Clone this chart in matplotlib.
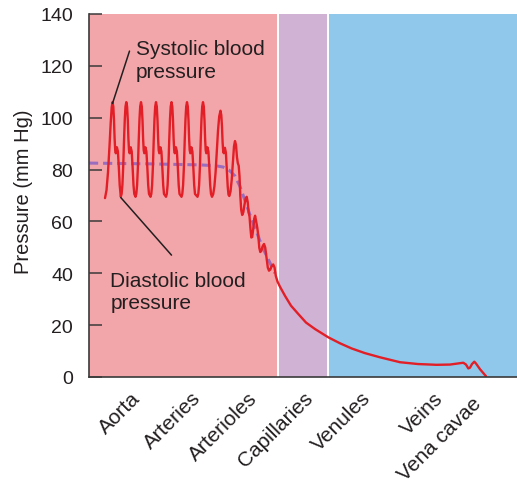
import matplotlib
matplotlib.use("Agg")
import matplotlib.pyplot as plt
import matplotlib.transforms as mtransforms

plt.rcParams['font.family'] = ['Liberation Sans', 'DejaVu Sans']

# ---------------- data ----------------
categories = ["Aorta", "Arteries", "Arterioles", "Capillaries", "Venules", "Veins", "Vena cavae"]
category_pos = [131, 191, 248, 303, 361, 433, 472]

region_names = ["arterial", "capillary", "venous"]
region_spans = [(89, 277), (279, 327), (329, 517)]
region_colors = ["#F3A6AA", "#CFB2D4", "#8FC8EB"]

y_ticks = [0, 20, 40, 60, 80, 100, 120, 140]

# blood pressure trace (position along circulation, mm Hg)
pressure_x = [
    105, 106.5, 108, 109.5, 110.7, 111.7, 112.5, 113.3, 114, 114.6, 115.2, 115.8, 116.9, 117.9, 118.8, 119.7, 120.5,
    120.8, 121.6, 122.4, 123.2, 124, 124.8, 125.5, 126.3, 127.1, 127.8, 128.4, 129, 129.6, 130.7, 131.7, 132.6, 133.5, 134.3,
    135.5, 136.3, 137.1, 137.9, 138.7, 139.5, 140.2, 141, 141.8, 142.5, 143.1, 143.7, 144.3, 145.4, 146.4, 147.3, 148.2, 149,
    150.5, 151.3, 152.1, 152.9, 153.7, 154.5, 155.2, 156, 156.8, 157.5, 158.1, 158.7, 159.3, 160.4, 161.4, 162.3, 163.2, 164,
    166, 166.8, 167.6, 168.4, 169.2, 170, 170.7, 171.5, 172.3, 173, 173.6, 174.2, 174.8, 175.9, 176.9, 177.8, 178.7, 179.5,
    181.5, 182.3, 183.1, 183.9, 184.7, 185.5, 186.2, 187, 187.8, 188.5, 189.1, 189.7, 190.3, 191.4, 192.4, 193.3, 194.2, 195,
    197.5, 198.3, 199.1, 199.9, 200.7, 201.5, 202.2, 203, 203.8, 204.5, 205.1, 205.7, 206.3, 207.4, 208.4, 209.3, 210.2, 211,
    212, 213.2, 214.4, 215.6, 216.8, 218, 219.2, 220.5, 221.3, 222, 222.6, 223.2, 223.8, 224.9, 225.9, 226.8, 227.7, 228.5,
    229.3, 230.5, 231.7, 232.9, 234, 235, 236, 236.9, 237.8, 238.7, 239.5, 240.3, 241.2, 242.2,
    243.3, 244.5, 245.7, 246.7, 247.7, 248.6, 249.5, 250.4, 251.3,
    252.2, 253.2, 254.2, 255.1, 256.1, 257.2, 258.3, 259.3, 260.3,
    261.4, 262.7, 264, 265.2, 266.5, 267.8, 269,
    270.4, 271.8, 273.2, 274.5, 275.8, 277.5, 280,
    285, 291, 298.3, 306, 315, 328.3, 340, 351.7, 365, 380, 400, 418, 436.7, 450,
    463.3, 466, 468.3, 470, 472, 474.3, 476, 480, 486,
]
pressure_p = [
    69, 72, 79, 89, 98, 104, 106, 104.3, 99, 92, 87.5, 86.3, 88.6, 87, 81, 74, 70.6,
    69.5, 70.6, 74, 81, 91, 99.5, 104.3, 106, 104.3, 99, 92, 87.5, 86.3, 88.6, 87, 81, 74, 70.6,
    69.5, 70.6, 74, 81, 91, 99.5, 104.3, 106, 104.3, 99, 92, 87.5, 86.3, 88.6, 87, 81, 74, 70.6,
    69.5, 70.6, 74, 81, 91, 99.5, 104.3, 106, 104.3, 99, 92, 87.5, 86.3, 88.6, 87, 81, 74, 70.6,
    69.5, 70.6, 74, 81, 91, 99.5, 104.3, 106, 104.3, 99, 92, 87.5, 86.3, 88.6, 87, 81, 74, 70.6,
    69.5, 70.6, 74, 81, 91, 99.5, 104.3, 106, 104.3, 99, 92, 87.5, 86.3, 88.6, 87, 81, 74, 70.6,
    69.5, 70.6, 74, 81, 91, 99.5, 104.3, 106, 104.3, 99, 92, 87.5, 86.3, 88.6, 87, 81, 74, 70.6,
    69.5, 70.5, 73.5, 79, 87, 95, 100.5, 102.7, 101, 96.5, 90.5, 87, 86.3, 88.4, 86.5, 80, 73.5, 70.3,
    69.8, 71.5, 76, 83, 89, 91, 89.5, 85, 82.5, 81.5, 77.5, 70, 64.5, 62.5,
    63.5, 66.5, 69, 69.5, 67.5, 63.5, 62, 57.5, 53.8,
    54, 57, 61, 62.2, 60, 57.8, 54.5, 49.8, 48.2,
    48.7, 50.5, 51.3, 50, 46, 42.2, 41,
    41.5, 42.9, 43.4, 42.3, 39, 36.8, 34.8,
    31.3, 27.5, 24.3, 21, 18.5, 15.3, 13, 11, 9.2, 7.6, 5.7, 5, 4.7, 4.8,
    5.5, 4.8, 3.3, 3.6, 5, 5.9, 5.2, 3, 0.3,
]

# mean arterial pressure (dashed)
mean_x = [89, 150, 200, 215, 223, 229, 235, 240, 245, 250, 255, 260, 265, 270, 275]
mean_p = [82.5, 82.2, 81.8, 81.5, 81, 79.8, 77.5, 73.5, 68, 62.5, 57.5, 52.5, 48, 44, 40]

# annotation anchors
systolic_label = "Systolic blood\npressure"
diastolic_label = "Diastolic blood\npressure"
systolic_text_xy = (135.6, 130.3)
systolic_leader_end = (129.5, 125.7)
diastolic_text_xy = (110.5, 41.0)
diastolic_leader_end = (171.5, 47.0)

# ---------------- plot ----------------
W, H = 517, 481
fig = plt.figure(figsize=(W / 100, H / 100), dpi=100)
ax = fig.add_axes([89 / W, 1 - 378 / H, 428 / W, 363 / H])
ax.set_xlim(89, 517)
ax.set_ylim(0, 140)

for (x0, x1), c in zip(region_spans, region_colors):
    ax.axvspan(x0, x1, color=c, lw=0, zorder=0)

red = "#E21E26"
purple = "#9B6DBE"
dark = "#231F20"

ax.plot(mean_x, mean_p, color=purple, lw=2.2, linestyle=(0, (3.0, 1.6)), zorder=2,
        dash_capstyle='butt')
ax.plot(pressure_x, pressure_p, color=red, lw=1.7, zorder=3,
        solid_joinstyle='round', solid_capstyle='round')

# leader lines
peak_idx = 6
trough_idx = 17
ax.annotate('', xy=(pressure_x[peak_idx], pressure_p[peak_idx] - 0.5), xytext=systolic_leader_end,
            arrowprops=dict(arrowstyle='-', color=dark, lw=1.1, shrinkA=0, shrinkB=0), zorder=4)
ax.annotate('', xy=(pressure_x[trough_idx], pressure_p[trough_idx] - 0.3), xytext=diastolic_leader_end,
            arrowprops=dict(arrowstyle='-', color=dark, lw=1.1, shrinkA=0, shrinkB=0), zorder=4)

ax.text(*systolic_text_xy, systolic_label, fontsize=15, color=dark, ha='left', va='top',
        linespacing=1.25, zorder=5)
ax.text(*diastolic_text_xy, diastolic_label, fontsize=15, color=dark, ha='left', va='top',
        linespacing=1.25, zorder=5)

# axes styling
for s in ['top', 'right']:
    ax.spines[s].set_visible(False)
for s in ['left', 'bottom']:
    ax.spines[s].set_color('#3a3a3a')
    ax.spines[s].set_linewidth(1.2)
    ax.spines[s].set_zorder(6)

ax.set_yticks(y_ticks)
ax.set_yticklabels([str(v) for v in y_ticks])
ax.tick_params(axis='y', direction='in', length=9.5, width=1.1, color='#3a3a3a',
               labelsize=14, pad=11.5, labelcolor=dark)

ax.set_xticks(category_pos)
ax.set_xticklabels(categories)
ax.tick_params(axis='x', length=0, labelsize=15, pad=8, labelcolor=dark)
for lbl in ax.get_xticklabels():
    lbl.set_rotation(45)
    lbl.set_ha('right')
    lbl.set_va('top')
    lbl.set_rotation_mode('anchor')
last = ax.get_xticklabels()[-1]
last.set_transform(last.get_transform() + mtransforms.ScaledTranslation(0, -5 / 100, fig.dpi_scale_trans))

ax.set_ylabel("Pressure (mm Hg)", fontsize=14.5, color=dark)
ax.yaxis.set_label_coords(-0.131, 0.514)

fig.savefig("out.png", dpi=100)
